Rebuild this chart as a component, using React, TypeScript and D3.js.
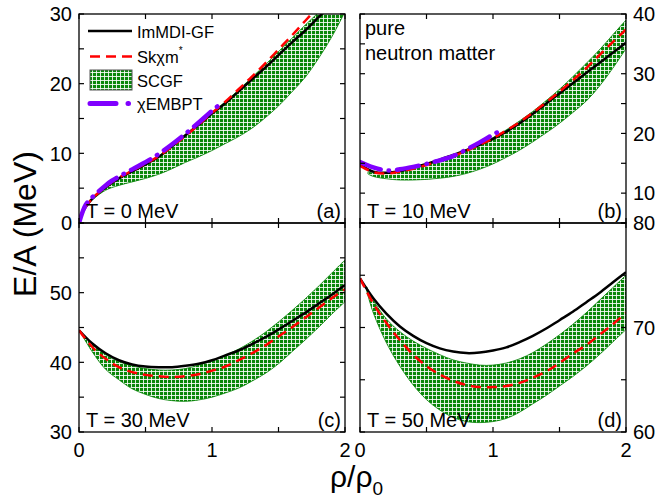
import * as d3 from 'd3';

// density grid shared by most curves (rho / rho0)
const rhoGrid = [0, 0.1, 0.2, 0.3, 0.4, 0.5, 0.6, 0.7, 0.8, 0.9, 1.0, 1.1, 1.2, 1.3, 1.4, 1.5, 1.6, 1.7, 1.8, 1.9, 2.0];
const rhoLowA = [0, 0.02, 0.05, 0.1, 0.2, 0.3, 0.4, 0.5, 0.6, 0.7, 0.8, 0.9, 1.0, 1.1, 1.2, 1.3, 1.4, 1.5, 1.6, 1.7, 1.8, 1.9, 2.0];

// T = 0 MeV
const blackT0 = [0, 1.2, 2.3, 3.5, 5.1, 6.4, 7.4, 8.4, 9.5, 11.0, 12.6, 14.1, 15.7, 17.2, 18.9, 20.6, 22.3, 24.1, 25.9, 27.6, 29.5, 31.4, 33.3];
const redT0 = [0, 1.2, 2.3, 3.5, 5.2, 6.5, 7.5, 8.5, 9.6, 11.0, 12.5, 14.1, 15.8, 17.4, 19.2, 21.0, 22.9, 24.9, 26.9, 29.0, 31.1, 33.3, 35.6];
const bandRhoT0 = [0.04, 0.1, 0.2, 0.3, 0.4, 0.5, 0.6, 0.7, 0.8, 0.9, 1.0, 1.1, 1.2, 1.3, 1.4, 1.5, 1.6, 1.7, 1.8, 1.9, 2.0];
const bandUpT0 = [2.2, 3.6, 5.2, 6.5, 7.5, 8.5, 9.6, 11.0, 12.6, 14.2, 15.8, 17.4, 19.1, 20.9, 22.7, 24.6, 26.5, 28.4, 30.2, 32.0, 34.0];
const bandLoT0 = [2.0, 3.3, 4.7, 5.4, 5.9, 6.4, 7.0, 7.8, 8.7, 9.5, 10.4, 11.4, 12.4, 13.6, 15.1, 16.8, 18.8, 20.9, 23.6, 26.7, 30.3];
const purpleRhoT0 = [0, 0.05, 0.1, 0.2, 0.25, 0.4, 0.55, 0.7, 0.85, 1.0, 1.05];
const purpleT0 = [0, 2.6, 3.7, 5.4, 6.1, 7.7, 9.3, 11.3, 13.6, 16.1, 16.9];

// T = 10 MeV
const blackT10 = [14.8, 13.6, 13.4, 13.7, 14.3, 14.9, 15.6, 16.4, 17.2, 18.1, 19.1, 20.3, 21.7, 23.3, 25.0, 26.7, 28.4, 30.1, 31.8, 33.5, 35.2];
const redT10 = [14.6, 13.5, 13.3, 13.6, 14.1, 14.7, 15.4, 16.2, 17.1, 18.1, 19.2, 20.5, 21.9, 23.5, 25.2, 27.0, 28.9, 30.9, 33.1, 35.3, 37.4];
const bandRhoT10 = [0.06, 0.1, 0.2, 0.3, 0.4, 0.5, 0.6, 0.7, 0.8, 0.9, 1.0, 1.1, 1.2, 1.3, 1.4, 1.5, 1.6, 1.7, 1.8, 1.9, 2.0];
const bandUpT10 = [13.6, 13.4, 13.3, 13.6, 14.1, 14.7, 15.4, 16.2, 17.1, 18.1, 19.3, 20.6, 22.1, 23.7, 25.5, 27.4, 29.5, 31.7, 34.0, 36.5, 39.0];
const bandLoT10 = [13.2, 12.8, 12.4, 12.2, 12.2, 12.3, 12.5, 12.8, 13.3, 14.0, 14.9, 16.0, 17.2, 18.6, 20.1, 21.7, 23.5, 25.4, 27.9, 30.9, 34.2];
const purpleRhoT10 = [0, 0.1, 0.2, 0.3, 0.4, 0.5, 0.6, 0.7, 0.8, 0.9, 1.0, 1.05];
const purpleT10 = [15.2, 14.3, 13.8, 14.0, 14.4, 14.9, 15.5, 16.2, 17.3, 18.5, 19.8, 20.4];

// T = 30 MeV
const blackT30 = [44.6, 42.7, 41.3, 40.3, 39.7, 39.4, 39.3, 39.3, 39.5, 39.8, 40.3, 41.0, 41.7, 42.6, 43.6, 44.7, 45.9, 47.1, 48.4, 49.7, 51.1];
const redT30 = [44.6, 42.2, 40.5, 39.3, 38.6, 38.2, 38.0, 37.9, 38.0, 38.3, 38.8, 39.4, 40.3, 41.3, 42.4, 43.7, 45.0, 46.4, 47.8, 49.2, 50.5];
const bandRhoT30 = [0.02, 0.1, 0.2, 0.3, 0.4, 0.5, 0.6, 0.7, 0.8, 0.9, 1.0, 1.1, 1.2, 1.3, 1.4, 1.5, 1.6, 1.7, 1.8, 1.9, 2.0];
const bandUpT30 = [44.2, 42.6, 41.1, 40.1, 39.5, 39.1, 38.9, 38.9, 39.1, 39.6, 40.2, 41.0, 41.9, 43.0, 44.3, 45.8, 47.4, 49.1, 50.9, 52.8, 54.7];
const bandLoT30 = [44.0, 41.5, 39.0, 37.5, 36.2, 35.4, 34.8, 34.5, 34.4, 34.6, 35.0, 35.6, 36.3, 37.3, 38.4, 39.8, 41.5, 43.2, 45.0, 46.9, 48.7];

// T = 50 MeV
const blackT50 = [74.7, 72.8, 71.3, 70.1, 69.2, 68.5, 68.0, 67.7, 67.55, 67.6, 67.8, 68.1, 68.6, 69.2, 69.9, 70.7, 71.5, 72.4, 73.3, 74.3, 75.3];
const redT50 = [74.7, 72.3, 70.4, 68.8, 67.4, 66.3, 65.5, 64.9, 64.5, 64.3, 64.3, 64.4, 64.7, 65.2, 65.8, 66.6, 67.5, 68.3, 69.3, 70.3, 71.4];
const bandRhoT50 = [0.05, 0.1, 0.2, 0.3, 0.4, 0.5, 0.6, 0.7, 0.8, 0.9, 1.0, 1.1, 1.2, 1.3, 1.4, 1.5, 1.6, 1.7, 1.8, 1.9, 2.0];
const bandUpT50 = [73.9, 72.6, 70.8, 69.6, 68.7, 68.0, 67.4, 66.9, 66.6, 66.4, 66.4, 66.6, 67.0, 67.6, 68.4, 69.3, 70.3, 71.4, 72.6, 73.8, 75.0];
const bandLoT50 = [73.5, 71.4, 68.5, 66.3, 64.5, 63.1, 62.1, 61.4, 61.0, 60.9, 61.0, 61.3, 61.9, 62.7, 63.5, 64.4, 65.3, 66.3, 67.4, 68.6, 69.8];

const xTickLabels = [0, 1, 2];
const legendLabels = ['ImMDI-GF', 'Skχm', 'SCGF', 'χEMBPT'];

const font = '"Liberation Sans", Arial, sans-serif';
const BLACK = '#000';
const RED = '#ff0000';
const GREEN = '#008000';
const PURPLE = '#8000ff';

type Pt = [number, number];
const zip = (xs: number[], ys: number[]): Pt[] => xs.map((x, i) => [x, ys[i]]);

const panels = [
  {
    id: 'a', col: 0, row: 0, domain: [0, 30], tickStep: 6, labels: [0, 10, 20, 30], side: 'left', temp: 'T = 0 MeV',
    black: zip(rhoLowA, blackT0), red: zip(rhoLowA, redT0),
    band: { rho: bandRhoT0, up: bandUpT0, lo: bandLoT0 }, purple: zip(purpleRhoT0, purpleT0),
  },
  {
    id: 'b', col: 1, row: 0, domain: [5, 40], tickStep: 7, labels: [10, 20, 30, 40], side: 'right', temp: 'T = 10 MeV',
    black: zip(rhoGrid, blackT10), red: zip(rhoGrid, redT10),
    band: { rho: bandRhoT10, up: bandUpT10, lo: bandLoT10 }, purple: zip(purpleRhoT10, purpleT10),
  },
  {
    id: 'c', col: 0, row: 1, domain: [30, 60], tickStep: 6, labels: [30, 40, 50], side: 'left', temp: 'T = 30 MeV',
    black: zip(rhoGrid, blackT30), red: zip(rhoGrid, redT30),
    band: { rho: bandRhoT30, up: bandUpT30, lo: bandLoT30 }, purple: null,
  },
  {
    id: 'd', col: 1, row: 1, domain: [60, 80], tickStep: 4, labels: [60, 70, 80], side: 'right', temp: 'T = 50 MeV',
    black: zip(rhoGrid, blackT50), red: zip(rhoGrid, redT50),
    band: { rho: bandRhoT50, up: bandUpT50, lo: bandLoT50 }, purple: null,
  },
];

export default function App() {
  const width = 658;
  const height = 501;
  const colX = [79, 360];
  const rowY = [14, 223];
  const pw = 266;
  const ph = 209;
  const tickLen = 5;

  const x = d3.scaleLinear().domain([0, 2]).range([0, pw]);
  const curve = d3.curveCatmullRom.alpha(0.5);

  return (
    <svg width={width} height={height} style={{ position: 'absolute', left: 0, top: 0, background: '#fff' }} fontFamily={font}>
      <defs>
        <pattern id="scgf" width="4" height="4" patternUnits="userSpaceOnUse">
          <rect width="4" height="4" fill="#0a870a" />
          <path d="M0 0.5H4M0.5 0V4" stroke="#fff" strokeWidth="0.85" />
        </pattern>
        {panels.map((p) => (
          <clipPath key={p.id} id={`clip-${p.id}`}>
            <rect width={pw} height={ph} />
          </clipPath>
        ))}
      </defs>

      {panels.map((p) => {
        const y = d3.scaleLinear().domain(p.domain).range([ph, 0]);
        const line = d3.line<Pt>().x((d) => x(d[0])).y((d) => y(d[1])).curve(curve);
        const area = d3
          .area<number>()
          .x((d) => x(p.band.rho[d]))
          .y0((d) => y(p.band.lo[d]))
          .y1((d) => y(p.band.up[d]))
          .curve(curve);
        const bandIdx = p.band.rho.map((_, i) => i);
        const xTicks = x.ticks(4);
        const yTicks = y.ticks(p.tickStep);
        return (
          <g key={p.id} transform={`translate(${colX[p.col]},${rowY[p.row]})`}>
            <g clipPath={`url(#clip-${p.id})`}>
              <path d={area(bandIdx) ?? ''} fill="url(#scgf)" stroke={GREEN} strokeWidth={0.8} />
              <path d={line(p.black) ?? ''} fill="none" stroke={BLACK} strokeWidth={2.5} />
              <path d={line(p.red) ?? ''} fill="none" stroke={RED} strokeWidth={2.5} strokeDasharray="10,6" />
              {p.purple && (
                <path
                  d={line(p.purple) ?? ''}
                  fill="none"
                  stroke={PURPLE}
                  strokeWidth={4.5}
                  strokeLinecap="round"
                  strokeDasharray="22,8,0.5,8"
                />
              )}
            </g>
            <rect width={pw} height={ph} fill="none" stroke={BLACK} strokeWidth={1.3} />
            {xTicks.map((t) => (
              <g key={`x${t}`}>
                <line x1={x(t)} x2={x(t)} y1={ph} y2={ph - tickLen} stroke={BLACK} strokeWidth={1.2} />
                <line x1={x(t)} x2={x(t)} y1={0} y2={tickLen} stroke={BLACK} strokeWidth={1.2} />
              </g>
            ))}
            {yTicks.map((t) => (
              <g key={`y${t}`}>
                <line x1={0} x2={tickLen} y1={y(t)} y2={y(t)} stroke={BLACK} strokeWidth={1.2} />
                <line x1={pw - tickLen} x2={pw} y1={y(t)} y2={y(t)} stroke={BLACK} strokeWidth={1.2} />
              </g>
            ))}
            {p.labels.map((t) => (
              <text
                key={`yl${t}`}
                x={p.side === 'left' ? -7 : pw + 7}
                y={y(t)}
                dy="0.36em"
                textAnchor={p.side === 'left' ? 'end' : 'start'}
                fontSize={20}
              >
                {t}
              </text>
            ))}
            {p.row === 1 &&
              xTickLabels.map((t) => (
                <text key={`xl${t}`} x={x(t)} y={ph + 25} textAnchor="middle" fontSize={20}>
                  {t}
                </text>
              ))}
            <text x={7} y={ph - 5} fontSize={20}>
              {p.temp}
            </text>
            <text x={pw - 4} y={ph - 5} fontSize={20} textAnchor="end">
              ({p.id})
            </text>
          </g>
        );
      })}

      {/* pure neutron matter note */}
      <text x={365} y={35} fontSize={20}>pure</text>
      <text x={365} y={60} fontSize={20}>neutron matter</text>

      {/* legend */}
      <g fontSize={16.5}>
        <line x1={88} x2={132} y1={31} y2={31} stroke={BLACK} strokeWidth={2.5} />
        <text x={137} y={38}>{legendLabels[0]}</text>
        <line x1={88} x2={132} y1={56.5} y2={56.5} stroke={RED} strokeWidth={2.5} strokeDasharray="10,6" strokeDashoffset={-2} />
        <text x={137} y={63}>
          {legendLabels[1]}
          <tspan fontSize={10} dy={-9}>*</tspan>
        </text>
        <rect x={90} y={70} width={42} height={20} fill="url(#scgf)" stroke="#555" strokeWidth={1} />
        <text x={137} y={87}>{legendLabels[2]}</text>
        <line x1={90} x2={130} y1={103.5} y2={103.5} stroke={PURPLE} strokeWidth={5} strokeLinecap="round" strokeDasharray="26,12,0.5,20" />
        <text x={137} y={110}>{legendLabels[3]}</text>
      </g>

      {/* axis titles */}
      <text transform="translate(36,224) rotate(-90)" textAnchor="middle" fontSize={32}>
        E/A (MeV)
      </text>
      <text x={330} y={487} fontSize={30}>
        ρ/ρ
        <tspan fontSize={19} dy={8}>0</tspan>
      </text>
    </svg>
  );
}
